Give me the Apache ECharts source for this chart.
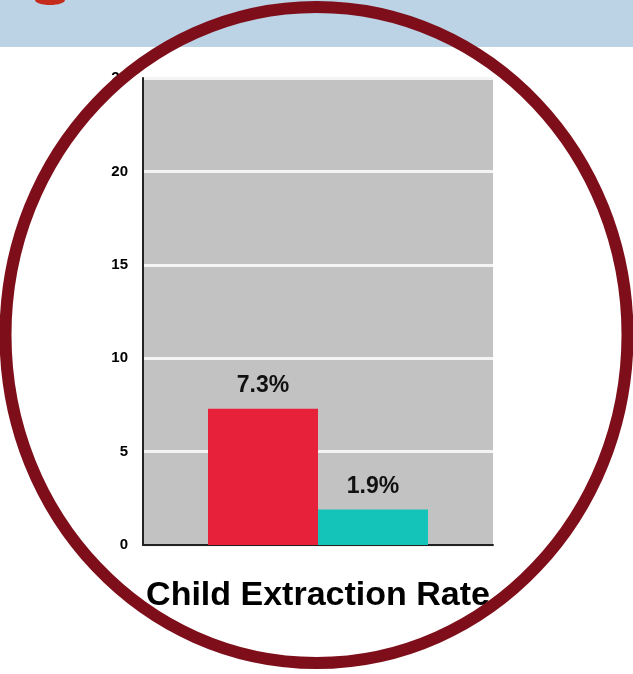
<!DOCTYPE html>
<html><head><meta charset="utf-8">
<script src="https://cdn.jsdelivr.net/npm/echarts@6/dist/echarts.min.js"></script>
<style>html,body{margin:0;padding:0;background:#fff}#c{width:633px;height:674px}</style>
</head><body><div id="c"></div>
<script>
const categories = ['Child Extraction Rate'];
const seriesNames = ['Group A', 'Group B'];
const valuesA = [7.3];
const valuesB = [1.9];
const yTicks = [0, 5, 10, 15, 20, 25];

const chart = echarts.init(document.getElementById('c'), null, {renderer: 'canvas'});
const labelStyle = {show: true, position: 'top', distance: 11, formatter: p => p.value + '%',
  color: '#111', fontWeight: 'bold', fontSize: 23, fontFamily: 'Liberation Sans'};
chart.setOption({
  animation: false,
  grid: {left: 143, right: 140, top: 78, bottom: 129, show: true, backgroundColor: '#c2c2c2', borderWidth: 0},
  graphic: [
    {type: 'rect', z: -10, silent: true, shape: {x: 0, y: 0, width: 633, height: 47}, style: {fill: '#bcd2e5'}},
    {type: 'ellipse', z: -9, silent: true, shape: {cx: 50, cy: 0, rx: 15, ry: 5}, style: {fill: '#c42b1b'}},
    {type: 'ellipse', z: 100, silent: true, shape: {cx: 316.5, cy: 335, rx: 311, ry: 328}, style: {fill: 'none', stroke: '#7e0f1a', lineWidth: 12}}
  ],
  xAxis: {type: 'category', data: categories, position: 'bottom',
    axisLine: {show: true, lineStyle: {color: '#222', width: 2}}, axisTick: {show: false},
    axisLabel: {show: true, margin: 34, color: '#000', fontWeight: 'bold', fontSize: 34, fontFamily: 'Liberation Sans'}},
  yAxis: {type: 'value', min: 0, max: 25, interval: 5,
    axisLine: {show: true, lineStyle: {color: '#222', width: 2}}, axisTick: {show: false},
    axisLabel: {margin: 15, color: '#000', fontWeight: 'bold', fontSize: 15, fontFamily: 'Liberation Sans',
      formatter: v => yTicks.includes(v) ? String(v) : ''},
    splitLine: {show: true, lineStyle: {color: '#f4f4f4', width: 3}}},
  series: [
    {name: seriesNames[0], type: 'bar', data: valuesA, barWidth: 110, barGap: '0%', itemStyle: {color: '#e8213a'}, label: labelStyle},
    {name: seriesNames[1], type: 'bar', data: valuesB, barWidth: 110, barGap: '0%', itemStyle: {color: '#15c4b8'}, label: labelStyle}
  ]
});
</script></body></html>
